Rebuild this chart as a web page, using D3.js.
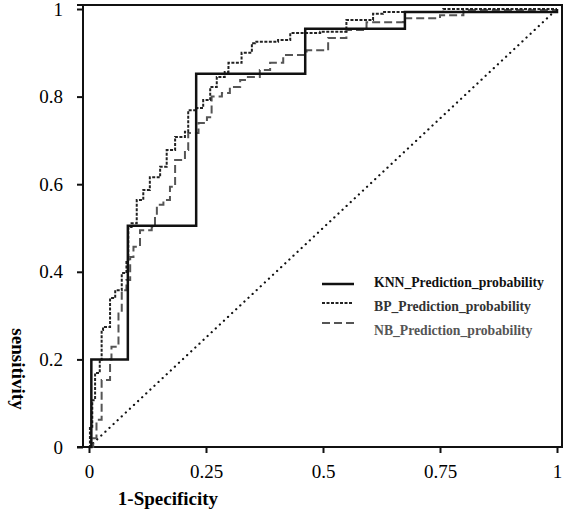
<!DOCTYPE html>
<html>
<head>
<meta charset="utf-8">
<script src="https://cdn.jsdelivr.net/npm/d3@7"></script>
<style>
  body { margin: 0; background: #fff; }
  text { font-family: "Liberation Serif", "Times New Roman", serif; }
</style>
</head>
<body>
<svg width="566" height="511"></svg>
<script>
// ROC data (1-specificity, sensitivity)
const knnFpr = [0, 0.005, 0.083, 0.229, 0.462, 0.675, 1];
const knnTpr = [0, 0.2, 0.505, 0.852, 0.955, 0.993, 1];

const bpFpr = [0, 0.002, 0.007, 0.013, 0.023, 0.027, 0.03, 0.045, 0.056, 0.07, 0.08, 0.084, 0.091, 0.102, 0.116, 0.13, 0.152, 0.166, 0.184, 0.205, 0.212, 0.23, 0.244, 0.259, 0.273, 0.29, 0.298, 0.326, 0.348, 0.355, 0.404, 0.43, 0.494, 0.55, 0.607, 0.628, 0.757, 1];
const bpTpr = [0, 0.046, 0.107, 0.169, 0.199, 0.267, 0.274, 0.34, 0.358, 0.397, 0.427, 0.502, 0.511, 0.564, 0.587, 0.616, 0.64, 0.678, 0.708, 0.72, 0.769, 0.774, 0.792, 0.822, 0.845, 0.856, 0.877, 0.9, 0.922, 0.925, 0.929, 0.945, 0.948, 0.975, 0.989, 0.993, 1, 1];

const nbFpr = [0, 0.009, 0.016, 0.027, 0.045, 0.048, 0.063, 0.07, 0.08, 0.088, 0.095, 0.109, 0.134, 0.141, 0.145, 0.159, 0.173, 0.184, 0.205, 0.212, 0.234, 0.252, 0.262, 0.284, 0.301, 0.323, 0.337, 0.365, 0.387, 0.415, 0.465, 0.511, 0.55, 0.593, 0.671, 0.75, 0.8, 1];
const nbTpr = [0, 0.02, 0.062, 0.153, 0.2, 0.229, 0.305, 0.358, 0.381, 0.434, 0.457, 0.495, 0.502, 0.53, 0.553, 0.564, 0.594, 0.655, 0.678, 0.717, 0.74, 0.753, 0.8, 0.808, 0.822, 0.838, 0.845, 0.861, 0.877, 0.895, 0.906, 0.934, 0.952, 0.97, 0.979, 0.986, 0.998, 1];

const xTicks = [0, 0.25, 0.5, 0.75, 1];
const yTicks = [0, 0.2, 0.4, 0.6, 0.8, 1];

const seriesNames = ['KNN_Prediction_probability', 'BP_Prediction_probability', 'NB_Prediction_probability'];

const svg = d3.select('svg');

const x = d3.scaleLinear().domain([0, 1]).range([89, 557]);
const y = d3.scaleLinear().domain([0, 1]).range([447, 9]);

const frame = {left: 83, right: 562, top: 5, bottom: 447};

// frame lines
const fg = svg.append('g').attr('stroke', '#111').attr('stroke-width', 2).attr('fill', 'none');
fg.append('line').attr('x1', 77).attr('x2', frame.right + 1).attr('y1', frame.top).attr('y2', frame.top);
fg.append('line').attr('x1', frame.right).attr('x2', frame.right).attr('y1', frame.top).attr('y2', frame.bottom);
fg.append('line').attr('x1', 77).attr('x2', frame.right + 1).attr('y1', frame.bottom).attr('y2', frame.bottom);
fg.append('line').attr('x1', frame.left).attr('x2', frame.left).attr('y1', frame.top).attr('y2', frame.bottom);

// axes
const xAxis = d3.axisBottom(x).tickValues(xTicks).tickSize(6).tickPadding(12)
  .tickFormat(d => d3.format('')(d));
const xAxisG = svg.append('g').attr('transform', `translate(0, ${frame.bottom})`).call(xAxis);
xAxisG.select('.domain').remove();

const yAxis = d3.axisLeft(y).tickValues(yTicks).tickSize(6).tickPadding(14)
  .tickFormat(d => d3.format('')(d));
const yAxisG = svg.append('g').attr('transform', `translate(${frame.left}, 0)`).call(yAxis);
yAxisG.select('.domain').remove();

[xAxisG, yAxisG].forEach(g => {
  g.selectAll('line').attr('stroke', '#111').attr('stroke-width', 2);
  g.selectAll('text').attr('fill', '#000')
    .style('font-family', '"Liberation Serif", serif').style('font-size', '19px');
});

// axis titles
svg.append('text')
  .attr('x', 168).attr('y', 505)
  .attr('text-anchor', 'middle')
  .style('font-size', '19px').style('font-weight', 'bold').attr('fill', '#000')
  .text('1-Specificity');

svg.append('text')
  .attr('transform', 'translate(12, 369) rotate(90)')
  .attr('text-anchor', 'middle')
  .style('font-size', '19px').style('font-weight', 'bold').attr('fill', '#000')
  .text('sensitivity');

// diagonal reference
svg.append('line')
  .attr('x1', x(0)).attr('y1', y(0)).attr('x2', x(1)).attr('y2', y(1))
  .attr('stroke', '#111').attr('stroke-width', 2.2)
  .attr('stroke-dasharray', '0.1,5.5').attr('stroke-linecap', 'round');

const line = d3.line().x(d => x(d[0])).y(d => y(d[1])).curve(d3.curveStepAfter);

const series = [
  {pts: d3.zip(nbFpr, nbTpr), color: '#555', width: 2, dash: '8,4'},
  {pts: d3.zip(bpFpr, bpTpr), color: '#222', width: 2, dash: '3,1.5'},
  {pts: d3.zip(knnFpr, knnTpr), color: '#111', width: 2.5, dash: null}
];

series.forEach(s => {
  svg.append('path')
    .datum(s.pts)
    .attr('d', line)
    .attr('fill', 'none')
    .attr('stroke', s.color)
    .attr('stroke-width', s.width)
    .attr('stroke-dasharray', s.dash);
});

// legend
const legendItems = [
  {name: seriesNames[0], color: '#111', text: '#111', width: 2.5, dash: null, ly: 284, ty: 287, x2: 354},
  {name: seriesNames[1], color: '#222', text: '#333', width: 2, dash: '3,1.5', ly: 303, ty: 311, x2: 352},
  {name: seriesNames[2], color: '#555', text: '#555', width: 2, dash: '8,4', ly: 323, ty: 335, x2: 358}
];

const lg = svg.append('g');
legendItems.forEach(d => {
  lg.append('line')
    .attr('x1', 322).attr('x2', d.x2).attr('y1', d.ly).attr('y2', d.ly)
    .attr('stroke', d.color).attr('stroke-width', d.width)
    .attr('stroke-dasharray', d.dash);
  lg.append('text')
    .attr('x', 374).attr('y', d.ty)
    .style('font-size', '13.7px').style('font-weight', 'bold')
    .attr('fill', d.text)
    .text(d.name);
});
</script>
</body>
</html>
